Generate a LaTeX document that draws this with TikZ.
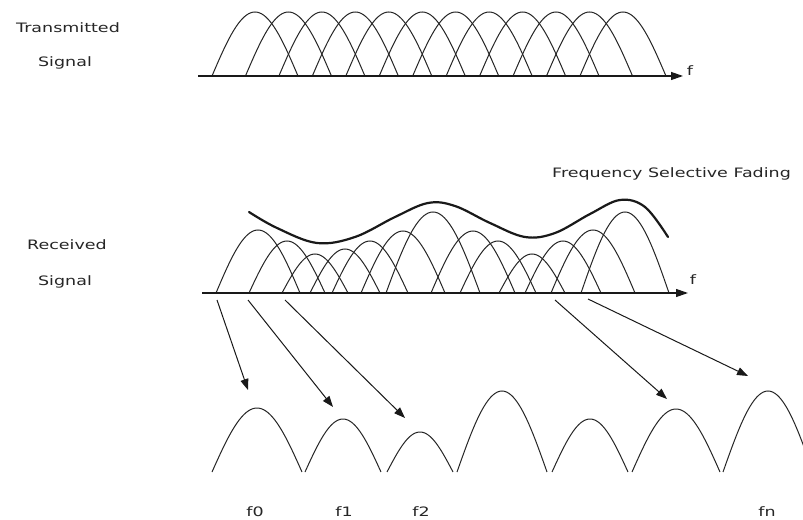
\documentclass[tikz,border=0pt]{standalone}
\usepackage{fontspec}
\usetikzlibrary{arrows.meta}
\newfontfamily\lblfont[FakeStretch=1.35]{DejaVu Sans}
\begin{document}
\begin{tikzpicture}[x=1bp,y=-1bp,
  arch/.style={line width=1bp,draw=black!85},
  axisline/.style={line width=1.2bp,draw=black!90,-{Triangle[length=12bp,width=8bp]}},
  envelope/.style={line width=2.2bp,draw=black!90,line cap=round},
  pointer/.style={line width=1bp,draw=black!90,-{Triangle[length=11bp,width=8bp]}},
  lbl/.style={inner sep=0pt,text=black!85,font=\lblfont\fontsize{13}{15}\selectfont}]
\clip (0,0) rectangle (803,520);
\fill[white] (0,0) rectangle (803,520);

% labels left
\node[lbl] (tx1) at (68,28) {Transmitted};
\node[lbl] (tx2) at (65,63) {Signal};
\node[lbl] (rx1) at (67,245) {Received};
\node[lbl] (rx2) at (65,282) {Signal};
\node[lbl,anchor=west] (fsf) at (552,174) {Frequency Selective Fading};

% transmitted spectrum
\coordinate (t0) at (198,76);
\coordinate (t1) at (683,76);
\foreach \i in {0,...,11}{
  \draw[arch] plot[domain=-1:1,samples=41,smooth] ({255+33.45*\i+43*\x},{76-64*cos(90*\x)});
}
\draw[axisline] (t0) -- (t1);
\node[lbl] (ft) at (690,71) {f};

% received spectrum
\coordinate (r0) at (202,293);
\coordinate (r1) at (688,293);
\foreach \cx/\hw/\hh in {258/42/63,287/38/52,315/33/39,345/35/44,370/38/52,403/42/62,433/47/81,473/42/62,498/38/52,532/33/39,563/38/52,593/42/63,625/44/81}{
  \draw[arch] plot[domain=-1:1,samples=41,smooth] ({\cx+\hw*\x},{293-\hh*cos(90*\x)});
}
\draw[envelope] plot[smooth,tension=0.6] coordinates {(249,212) (277,228) (317,243) (355,237) (395,217) (428,203) (455,206) (490,223) (525,237) (555,233) (590,214) (620,200) (645,207) (668,237)};
\draw[axisline] (r0) -- (r1);
\node[lbl] (fr) at (693,280) {f};

% separated subcarriers
\foreach \cx/\hw/\hh in {257/45/64,343/38/53,420/33/40,502/45/81,590/38/53,676/44/63,768/45/81}{
  \draw[arch] plot[domain=-1:1,samples=41,smooth] ({\cx+\hw*\x},{472-\hh*cos(90*\x)});
}

% pointers
\coordinate (a1s) at (217,300); \coordinate (a1e) at (248,390);
\coordinate (a2s) at (248,300); \coordinate (a2e) at (333,407);
\coordinate (a3s) at (285,300); \coordinate (a3e) at (405,418);
\coordinate (a4s) at (555,300); \coordinate (a4e) at (667,399);
\coordinate (a5s) at (588,299); \coordinate (a5e) at (748,376);
\draw[pointer] (a1s) -- (a1e);
\draw[pointer] (a2s) -- (a2e);
\draw[pointer] (a3s) -- (a3e);
\draw[pointer] (a4s) -- (a4e);
\draw[pointer] (a5s) -- (a5e);

% subcarrier labels
\node[lbl] (f0) at (255,512) {f0};
\node[lbl] (f1) at (344,512) {f1};
\node[lbl] (f2) at (421,512) {f2};
\node[lbl] (fn) at (767,512) {fn};
\end{tikzpicture}
\end{document}
